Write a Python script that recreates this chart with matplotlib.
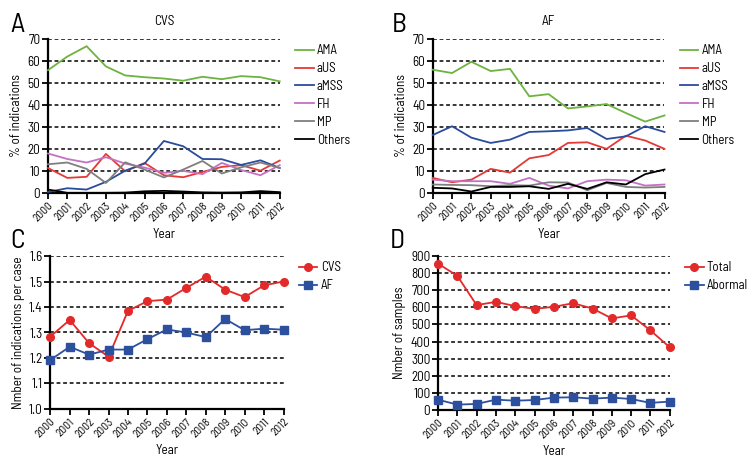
import matplotlib
matplotlib.use("Agg")
import matplotlib.pyplot as plt
from matplotlib import font_manager

names = {f.name for f in font_manager.fontManager.ttflist}
fam = [n for n in ['Barlow Semi Condensed', 'Archivo Narrow', 'Liberation Sans Narrow'] if n in names][:1] + ['DejaVu Sans']
plt.rcParams['font.family'] = fam

years = list(range(2000, 2013))
year_labels = [str(y) for y in years]

# Panel A: CVS (% of indications)
cvs_ama = [55.8, 62.0, 66.7, 57.5, 53.4, 52.6, 52.0, 51.0, 52.8, 51.7, 53.1, 52.6, 50.7]
cvs_aus = [11.3, 6.8, 7.3, 17.7, 9.8, 13.6, 8.0, 7.1, 9.5, 11.8, 12.6, 10.1, 14.7]
cvs_amss = [0.4, 2.1, 1.5, 5.0, 10.1, 13.3, 23.6, 21.2, 15.4, 15.3, 12.7, 14.8, 11.3]
cvs_fh = [17.9, 15.4, 13.8, 16.2, 13.3, 11.5, 9.1, 10.0, 8.5, 13.6, 10.4, 8.0, 12.6]
cvs_mp = [13.0, 13.8, 10.9, 4.5, 13.9, 10.6, 7.0, 10.6, 14.5, 8.8, 11.6, 13.8, 11.3]
cvs_others = [1.5, 0.0, 0.0, 0.0, 0.1, 0.7, 0.9, 0.6, 0.2, 0.1, 0.2, 0.8, 0.3]

# Panel B: AF (% of indications)
af_ama = [56.0, 54.5, 59.6, 55.4, 56.4, 43.9, 44.9, 38.4, 39.3, 40.4, 36.3, 32.4, 35.2]
af_aus = [6.8, 4.8, 6.0, 10.9, 9.2, 15.7, 17.2, 22.7, 23.0, 20.0, 26.0, 23.8, 20.0]
af_amss = [26.3, 30.3, 25.1, 22.7, 24.2, 27.7, 28.0, 28.4, 29.5, 24.5, 25.7, 30.3, 27.7]
af_fh = [6.0, 5.3, 5.3, 5.3, 4.1, 6.8, 3.3, 2.0, 5.3, 6.0, 5.7, 3.3, 3.8]
af_mp = [3.8, 3.6, 3.5, 3.0, 3.5, 3.3, 4.8, 4.7, 1.2, 4.5, 2.7, 2.4, 2.7]
af_others = [2.3, 2.0, 0.6, 2.7, 2.7, 3.0, 1.8, 4.1, 1.8, 4.8, 3.8, 8.5, 10.6]

# Panel C: number of indications per case
per_case_cvs = [1.284, 1.349, 1.258, 1.205, 1.385, 1.423, 1.429, 1.475, 1.519, 1.468, 1.439, 1.485, 1.500]
per_case_af = [1.192, 1.244, 1.213, 1.233, 1.233, 1.274, 1.312, 1.300, 1.282, 1.353, 1.309, 1.315, 1.311]

# Panel D: number of samples
samples_total = [856, 784, 613, 632, 607, 591, 603, 624, 593, 535, 553, 465, 366]
samples_abnormal = [60, 31, 35, 60, 54, 58, 72, 74, 66, 72, 64, 41, 49]

series_names = ['AMA', 'aUS', 'aMSS', 'FH', 'MP', 'Others']
series_colors = ['#6cb33f', '#e53935', '#2b4c9b', '#c471c4', '#7f7f7f', '#000000']
RED = '#e32a2a'
BLUE = '#2c4f9e'

fig = plt.figure(figsize=(7.5, 4.75), dpi=100)

def style(ax, yticks, ylabel):
    ax.set_xlim(years[0], years[-1])
    ax.set_ylim(yticks[0], yticks[-1])
    ax.set_yticks(yticks)
    ax.set_xticks(years)
    ax.set_xticklabels(year_labels, rotation=45, ha='right', rotation_mode='anchor', fontsize=8.2)
    ax.tick_params(axis='y', labelsize=9.5, length=4, width=1.3, direction='out', pad=1.5)
    ax.tick_params(axis='x', length=4, width=1.3, direction='out', pad=1.5)
    for s in ['top', 'right']:
        ax.spines[s].set_visible(False)
    for s in ['left', 'bottom']:
        ax.spines[s].set_linewidth(1.6)
    for yv in yticks[1:]:
        ax.axhline(yv, color='black', lw=1.1, ls=(0, (2.5, 1.8)), zorder=1)
    ax.set_ylabel(ylabel, fontsize=9.5, labelpad=3)
    ax.set_xlabel('Year', fontsize=9.5, labelpad=3)

def add_legend(ax):
    ax.legend(loc='upper left', bbox_to_anchor=(1.043, 1.0), frameon=False, fontsize=9.3,
              handlelength=1.45, handletextpad=0.25, labelspacing=0.38, borderaxespad=0)

def pct_panel(rect, data, title, letter, letter_x):
    ax = fig.add_axes(rect)
    for name, vals, c in zip(series_names, data, series_colors):
        ax.plot(years, vals, color=c, lw=1.3, label=name, zorder=3, clip_on=False)
    style(ax, list(range(0, 80, 10)), '% of indications')
    ax.set_title(title, fontsize=9.5, pad=10)
    add_legend(ax)
    fig.text(letter_x, 0.933, letter, fontsize=20, ha='left', va='baseline')
    return ax

pct_panel([0.064, 0.594, 0.309, 0.324],
          [cvs_ama, cvs_aus, cvs_amss, cvs_fh, cvs_mp, cvs_others], 'CVS', 'A', 0.014)
pct_panel([0.577, 0.594, 0.309, 0.324],
          [af_ama, af_aus, af_amss, af_fh, af_mp, af_others], 'AF', 'B', 0.522)

axc = fig.add_axes([0.067, 0.139, 0.311, 0.322])
axc.plot(years, per_case_cvs, color=RED, marker='o', ms=5.5, lw=1.3, label='CVS', zorder=3, clip_on=False)
axc.plot(years, per_case_af, color=BLUE, marker='s', ms=5.5, lw=1.3, label='AF', zorder=3, clip_on=False)
style(axc, [1.0, 1.1, 1.2, 1.3, 1.4, 1.5, 1.6], 'Nmber of indications per case')
axc.set_yticklabels(['1.0', '1.1', '1.2', '1.3', '1.4', '1.5', '1.6'])
add_legend(axc)
fig.text(0.014, 0.478, 'C', fontsize=20, ha='left', va='baseline')

axd = fig.add_axes([0.584, 0.137, 0.309, 0.324])
axd.plot(years, samples_total, color=RED, marker='o', ms=5.5, lw=1.3, label='Total', zorder=3, clip_on=False)
axd.plot(years, samples_abnormal, color=BLUE, marker='s', ms=5.5, lw=1.3, label='Abormal', zorder=3, clip_on=False)
style(axd, list(range(0, 1000, 100)), 'Nmber of samples')
add_legend(axd)
fig.text(0.52, 0.478, 'D', fontsize=20, ha='left', va='baseline')

fig.savefig('out.png', dpi=100)
